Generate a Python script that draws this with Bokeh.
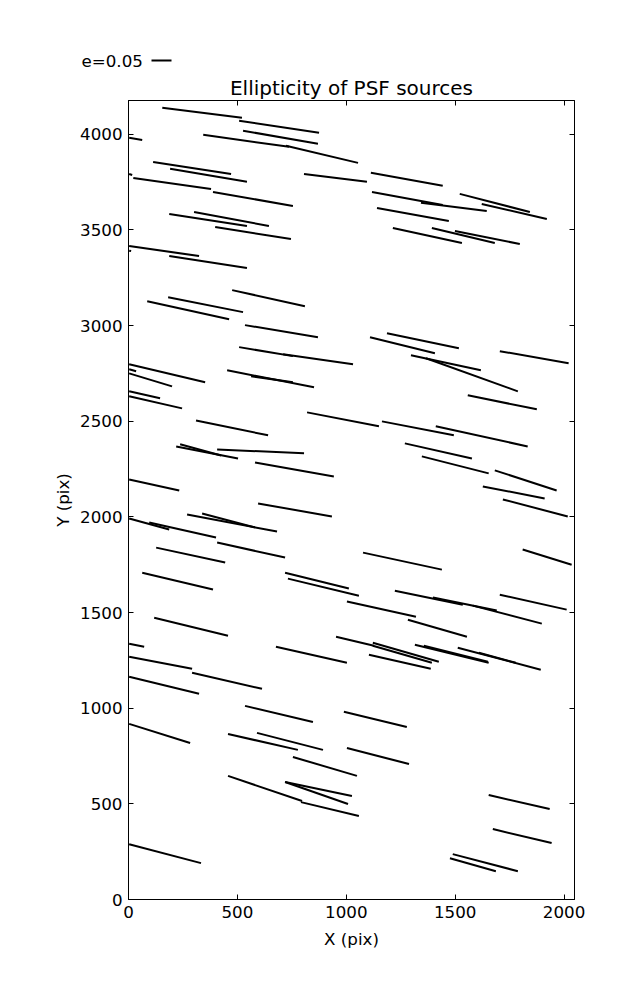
from bokeh.plotting import figure
from bokeh.layouts import column
from bokeh.models import ColumnDataSource, Range1d, LinearAxis, FixedTicker
from bokeh.core.properties import value
from bokeh.embed import file_html
from bokeh.resources import INLINE

# Whisker endpoints (pixel coordinates on the CCD)
x0 = [155, 508, 526, 343, 723, 3, 113, 191, 3, 22, 388, 806, 301, 187, 398, 3, 3, 187,
      1113, 1118, 1343, 1141, 1521, 1622, 1214, 1393, 1499,
      476, 182, 86, 535, 508, 710, 3, 3, 3, 453, 563, 3, 3, 820, 310,
      1187, 1109, 1705, 1297, 1366, 1558, 1164,
      219, 237, 407, 581, 3, 595, 269, 338, 3, 95, 127, 407, 63, 719, 732,
      1411, 1269, 1347, 1682, 1627, 1719, 1077, 1810,
      118, 3, 677, 3, 292, 3, 535, 989, 3, 457, 590, 1003, 953,
      1223, 1398, 1581, 1705, 1283, 1122, 1122, 1104, 1315, 1356, 1512, 1609,
      1003, 755, 457, 792, 719, 719, 3,
      1654, 1673, 1489, 1476]
y0 = [4138, 4070, 4018, 3997, 3939, 3981, 3855, 3819, 3792, 3771, 3698, 3792, 3593, 3583, 3515, 3415, 3391, 3363,
      3798, 3698, 3641, 3614, 3688, 3635, 3510, 3510, 3494,
      3185, 3148, 3127, 3002, 2887, 2850, 2798, 2771, 2750, 2766, 2735, 2656, 2630, 2546, 2504,
      2960, 2939, 2866, 2845, 2829, 2635, 2499,
      2368, 2379, 2352, 2284, 2195, 2070, 2012, 2017, 1991, 1970, 1839, 1866, 1708, 1708, 1677,
      2473, 2384, 2316, 2243, 2159, 2091, 1813, 1829,
      1473, 1337, 1321, 1269, 1185, 1164, 1012, 981, 918, 865, 871, 1557, 1373,
      1614, 1578, 1536, 1593, 1462, 1342, 1326, 1279, 1331, 1326, 1316, 1290,
      792, 745, 646, 509, 614, 614, 289,
      546, 368, 237, 216]
x1 = [521, 875, 870, 737, 1054, 63, 471, 544, 17, 379, 755, 1095, 645, 544, 746, 324, 12, 544,
      1443, 1443, 1645, 1471, 1843, 1921, 1531, 1682, 1797,
      810, 526, 462, 870, 755, 1031, 352, 35, 200, 852, 755, 145, 246, 1150, 641,
      1517, 1407, 2021, 1618, 1788, 1875, 1494,
      503, 425, 806, 943, 233, 934, 682, 581, 187, 402, 444, 719, 388, 1012, 1058,
      1833, 1577, 1654, 1966, 1911, 2017, 1439, 2035,
      457, 72, 1003, 292, 613, 324, 847, 1278, 283, 778, 893, 1320, 1127,
      1535, 1691, 1898, 2012, 1554, 1425, 1393, 1388, 1654, 1650, 1893, 1778,
      1288, 1049, 797, 1058, 1026, 1008, 333,
      1934, 1943, 1788, 1687]
y1 = [4086, 4007, 3950, 3934, 3850, 3970, 3792, 3751, 3787, 3714, 3625, 3751, 3520, 3520, 3452, 3363, 3389, 3300,
      3730, 3630, 3599, 3546, 3593, 3557, 3431, 3431, 3426,
      3101, 3070, 3033, 2939, 2840, 2798, 2703, 2761, 2682, 2677, 2703, 2620, 2567, 2473, 2426,
      2881, 2855, 2803, 2766, 2656, 2562, 2426,
      2305, 2321, 2332, 2211, 2138, 2002, 1923, 1944, 1934, 1892, 1761, 1787, 1620, 1625, 1588,
      2368, 2305, 2227, 2138, 2096, 2002, 1724, 1750,
      1379, 1321, 1237, 1206, 1101, 1075, 928, 902, 818, 782, 782, 1478, 1326,
      1541, 1510, 1442, 1515, 1373, 1243, 1237, 1206, 1237, 1243, 1201, 1237,
      708, 646, 515, 436, 541, 499, 190,
      473, 295, 148, 148]

x_ticks = [0, 500, 1000, 1500, 2000]
y_ticks = [0, 500, 1000, 1500, 2000, 2500, 3000, 3500, 4000]
key_label = "e=0.05"
title_text = "Ellipticity of PSF sources"

FONT = "DejaVu Sans"
W = 624

# ---- quiver key strip (its own small figure above the main plot) ----
KH = 72
key = figure(width=W, height=KH, x_range=Range1d(0, W), y_range=Range1d(0, KH),
             output_backend="svg", toolbar_location=None, min_border=0,
             frame_align=False,
             background_fill_color="white", border_fill_color="white")
key.axis.visible = False
key.grid.visible = False
key.outline_line_color = None
key.text(x=[81], y=[KH - 60], text=[key_label], text_font=value(FONT),
         text_font_size="16.7px", text_color="black",
         text_baseline="middle", text_align="left")
key.segment(x0=[151], y0=[KH - 60], x1=[171], y1=[KH - 60],
            line_color="black", line_width=2)

# ---- main whisker plot ----
p = figure(frame_width=446, frame_height=799,
           x_range=Range1d(0, 2048), y_range=Range1d(0, 4176),
           output_backend="svg", toolbar_location=None, frame_align=False,
           min_border_left=128, min_border_top=100 - KH, min_border_right=50, min_border_bottom=85,
           background_fill_color="white", border_fill_color="white",
           x_axis_label="X (pix)", y_axis_label="Y (pix)")
p.title.text = title_text
p.title.align = "center"
p.title.text_font = FONT
p.title.text_font_size = "20px"
p.title.text_font_style = "normal"
p.title.text_color = "black"
p.title.standoff = 2
p.title.offset = 0

p.xgrid.visible = False
p.ygrid.visible = False
p.outline_line_color = "black"
p.outline_line_width = 1

def style_axis(ax, ticks, labels=True):
    ax.ticker = FixedTicker(ticks=ticks)
    ax.major_tick_in = 5
    ax.major_tick_out = 0
    ax.minor_tick_in = 0
    ax.minor_tick_out = 0
    ax.axis_line_color = "black"
    ax.major_tick_line_color = "black"
    ax.major_label_text_font = FONT
    ax.major_label_text_font_size = "16.7px"
    ax.major_label_text_color = "black"
    ax.axis_label_text_font = FONT
    ax.axis_label_text_font_size = "16.7px"
    ax.axis_label_text_font_style = "normal"
    ax.axis_label_text_color = "black"
    if not labels:
        ax.major_label_text_font_size = "0px"
        ax.major_label_text_alpha = 0

style_axis(p.xaxis[0], x_ticks)
style_axis(p.yaxis[0], y_ticks)
p.xaxis[0].major_label_standoff = 6
p.yaxis[0].major_label_standoff = 6
p.xaxis[0].axis_label_standoff = 8
p.yaxis[0].axis_label_standoff = 4

top_ax = LinearAxis()
style_axis(top_ax, x_ticks, labels=False)
top_ax.major_label_standoff = 0
p.add_layout(top_ax, "above")
right_ax = LinearAxis()
style_axis(right_ax, y_ticks, labels=False)
right_ax.major_label_standoff = 0
p.add_layout(right_ax, "right")

src = ColumnDataSource(dict(x0=x0, y0=y0, x1=x1, y1=y1))
p.segment(x0="x0", y0="y0", x1="x1", y1="y1", source=src,
          line_color="black", line_width=2)

layout = column(key, p, spacing=0)
open("out.html", "w").write(file_html(layout, INLINE))
